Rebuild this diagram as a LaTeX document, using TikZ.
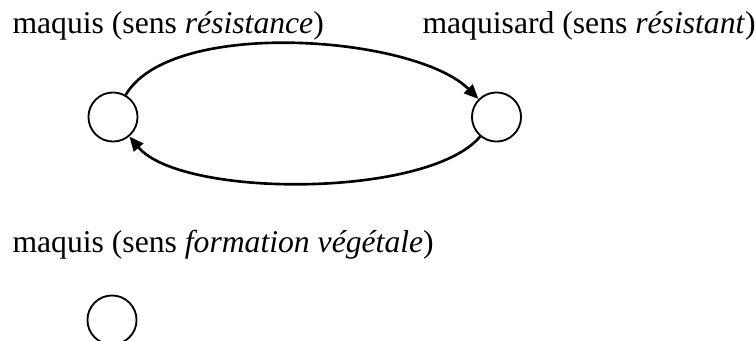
\documentclass[tikz,border=0pt]{standalone}
\usepackage{fontspec}
\setmainfont{Liberation Serif}
\usetikzlibrary{arrows.meta}

\begin{document}
\begin{tikzpicture}[
  x=0.379pt, y=0.379pt,
  sens/.style={circle, draw, line width=0.7pt, minimum size=18.6pt, inner sep=0pt},
  lbl/.style={anchor=base west, inner sep=0pt, font=\fontsize{12pt}{14pt}\selectfont},
  every edge/.style={draw, line width=1pt, -{Triangle[length=5.5pt,width=4.6pt]}}
]
\useasboundingbox (0,0) rectangle (755,-340);
\node[sens] (resist)    at (113,-117) {};
\node[sens] (resistant) at (496.5,-117) {};
\node[sens] (vege)      at (112,-320) {};
\node[lbl] (lresist)    at (12,-33)  {maquis (sens \emph{résistance})};
\node[lbl] (lresistant) at (422,-33) {maquisard (sens \emph{résistant})};
\node[lbl] (lvege)      at (12,-252) {maquis (sens \emph{formation végétale})};

\draw (resist) edge[out=60, in=135, looseness=0.65] (resistant);
\draw (resistant) edge[out=230, in=-50, looseness=0.59] (resist);
\end{tikzpicture}
\end{document}
